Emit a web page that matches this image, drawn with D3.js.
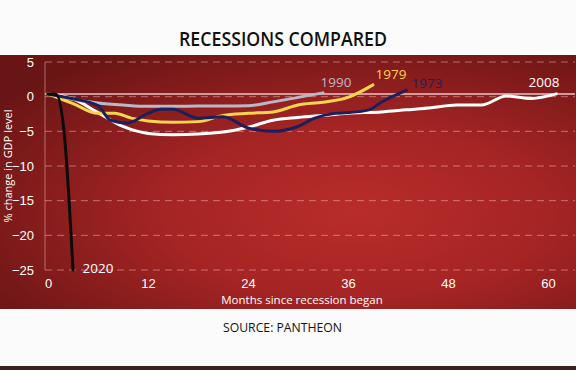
<!DOCTYPE html>
<html>
<head>
<meta charset="utf-8">
<script src="https://cdn.jsdelivr.net/npm/d3@7"></script>
<style>
	html, body { margin: 0; padding: 0; background: #fbfbfb; }
	svg { display: block; font-family: 'Open Sans', 'Noto Sans', sans-serif; }
	.grid-line { stroke: rgba(255, 210, 210, 0.45); stroke-width: 1; stroke-dasharray: 7 5; }
	.axis text { fill: #fff; font-size: 13px; }
	.series { fill: none; stroke-width: 3; stroke-linejoin: round; stroke-linecap: round; }
</style>
</head>
<body>
<div id="chart"></div>
<script>
	'use strict';

	// months since recession began, % change in GDP level
	var series2008 = [[0, 0.4], [3, -0.3], [6, -2.3], [9, -4.3], [12, -5.3], [15, -5.5], [18, -5.4], [21, -5.1], [24, -4.4], [27, -3.4], [30, -3.0], [33, -2.7], [36, -2.4], [40, -2.2], [43, -1.9], [46, -1.6], [49, -1.2], [52, -1.2], [55, 0.1], [58, -0.25], [61, 0.4]];
	var series1990 = [[0, 0.4], [3, -0.4], [6, -0.9], [9, -1.2], [12, -1.4], [15, -1.4], [18, -1.35], [21, -1.35], [24, -1.3], [27, -0.75], [30, -0.1], [33, 0.55]];
	var series1979 = [[0, 0.4], [3, -1.0], [6, -2.4], [8, -2.4], [10, -3.1], [12, -3.5], [15, -3.7], [18, -3.6], [21, -2.7], [24, -2.4], [27, -2.2], [30, -1.2], [33, -0.8], [36, -0.1], [39, 1.7]];
	var series1973 = [[0, 0.4], [3, -0.3], [6, -1.3], [7.5, -3.4], [9.5, -3.8], [12, -2.4], [13.5, -1.8], [15, -1.8], [18, -3.1], [21, -2.9], [24, -4.5], [27, -5.0], [30, -4.3], [32, -3.1], [34.5, -2.4], [36, -2.3], [38.5, -1.9], [40, -0.8], [43, 0.9]];
	var series2020 = [[0, 0.4], [1, 0.3], [2, -6], [3, -25]];

	var seriesNames = ['2008', '1990', '1979', '1973', '2020'];
	var seriesColors = ['#ffffff', '#b9b9c6', '#f6d54c', '#1d1f5c', '#0c0c0c'];

	var xTicks = [0, 12, 24, 36, 48, 60];
	var yTicks = [5, 0, -5, -10, -15, -20, -25];
	var baseLevel = 0.4;

	var width = 576,
		height = 370,
		panel = { top: 55, bottom: 309 },
		plot = { left: 45, right: 575 };

	var xScale = d3.scaleLinear().domain([0, 60]).range([48, 548]),
		yScale = d3.scaleLinear().domain([-25, 5]).range([270, 62]);

	var svg = d3.select('#chart')
		.append('svg')
			.attr('width', width)
			.attr('height', height);

	var defs = svg.append('defs');

	var grad = defs.append('radialGradient')
		.attr('id', 'panel-bg')
		.attr('cx', '62%')
		.attr('cy', '62%')
		.attr('r', '75%');
	grad.append('stop').attr('offset', '0%').attr('stop-color', '#b82d2b');
	grad.append('stop').attr('offset', '45%').attr('stop-color', '#a52424');
	grad.append('stop').attr('offset', '100%').attr('stop-color', '#6a1515');

	// red panel
	svg.append('rect')
		.attr('x', 0)
		.attr('y', panel.top)
		.attr('width', width)
		.attr('height', panel.bottom - panel.top)
		.attr('fill', 'url(#panel-bg)');

	// dark strip at the very bottom
	svg.append('rect')
		.attr('x', 0)
		.attr('y', 366)
		.attr('width', width)
		.attr('height', 4)
		.attr('fill', '#3b2020');

	// title & source
	svg.append('text')
		.attr('x', 283)
		.attr('y', 46)
		.attr('text-anchor', 'middle')
		.attr('font-size', 20)
		.attr('font-weight', 600)
		.attr('fill', '#111')
		.attr('textLength', 208)
		.attr('lengthAdjust', 'spacingAndGlyphs')
		.text('RECESSIONS COMPARED');

	svg.append('text')
		.attr('x', 223)
		.attr('y', 332)
		.attr('font-size', 13.5)
		.attr('font-weight', 500)
		.attr('fill', '#111')
		.attr('textLength', 119)
		.attr('lengthAdjust', 'spacingAndGlyphs')
		.text('SOURCE: PANTHEON');

	// grid lines
	svg.append('g')
		.selectAll('line')
		.data(yTicks)
		.join('line')
			.attr('class', 'grid-line')
			.attr('x1', plot.left)
			.attr('x2', plot.right)
			.attr('y1', function (d) { return yScale(d) })
			.attr('y2', function (d) { return yScale(d) });

	// y axis line
	svg.append('line')
		.attr('x1', plot.left)
		.attr('x2', plot.left)
		.attr('y1', yScale(5))
		.attr('y2', yScale(-25))
		.attr('stroke', 'rgba(255, 210, 210, 0.45)')
		.attr('stroke-width', 1);

	// solid base line
	svg.append('line')
		.attr('x1', plot.left)
		.attr('x2', plot.right)
		.attr('y1', yScale(baseLevel))
		.attr('y2', yScale(baseLevel))
		.attr('stroke', 'rgba(255, 225, 225, 0.85)')
		.attr('stroke-width', 1.5);

	svg.append('g')
		.attr('class', 'axis axis-left')
		.attr('transform', 'translate(' + (plot.left - 1) + ',0)')
		.call(d3.axisLeft(yScale).tickValues(yTicks).tickSize(0).tickPadding(10))
		.call(function (g) { g.select('.domain').remove() });

	svg.append('g')
		.attr('class', 'axis axis-bottom')
		.attr('transform', 'translate(0,' + yScale(-25) + ')')
		.call(d3.axisBottom(xScale).tickValues(xTicks).tickSize(0).tickPadding(9))
		.call(function (g) { g.select('.domain').remove() });

	svg.selectAll('.axis text').attr('font-family', null).attr('font-size', null);

	// axis titles
	svg.append('text')
		.attr('transform', 'translate(12,166) rotate(-90)')
		.attr('text-anchor', 'middle')
		.attr('font-size', 11)
		.attr('fill', '#fff')
		.text('% change in GDP level');

	svg.append('text')
		.attr('x', 302)
		.attr('y', 304)
		.attr('text-anchor', 'middle')
		.attr('font-size', 11.5)
		.attr('fill', '#fff')
		.text('Months since recession began');

	// LINES
	var line = d3.line()
		.x(function (d) { return xScale(d[0]) })
		.y(function (d) { return yScale(d[1]) })
		.curve(d3.curveMonotoneX);

	var allSeries = [series2008, series1990, series1979, series1973, series2020];

	svg.append('g')
		.selectAll('path')
		.data(allSeries)
		.join('path')
			.attr('class', 'series')
			.attr('stroke', function (d, i) { return seriesColors[i] })
			.attr('d', line);

	// LABELS
	var labelPos = [
		{ name: '2008', x: 544, y: 87 },
		{ name: '1990', x: 336, y: 87 },
		{ name: '1979', x: 391, y: 79 },
		{ name: '1973', x: 427, y: 88 },
		{ name: '2020', x: 98, y: 273 }
	];

	svg.append('g')
		.selectAll('text')
		.data(labelPos)
		.join('text')
			.attr('x', function (d) { return d.x })
			.attr('y', function (d) { return d.y })
			.attr('text-anchor', 'middle')
			.attr('font-size', 13.5)
			.attr('fill', function (d) {
				var i = seriesNames.indexOf(d.name);
				return d.name === '2020' ? '#fff' : seriesColors[i];
			})
			.text(function (d) { return d.name });
</script>
</body>
</html>
